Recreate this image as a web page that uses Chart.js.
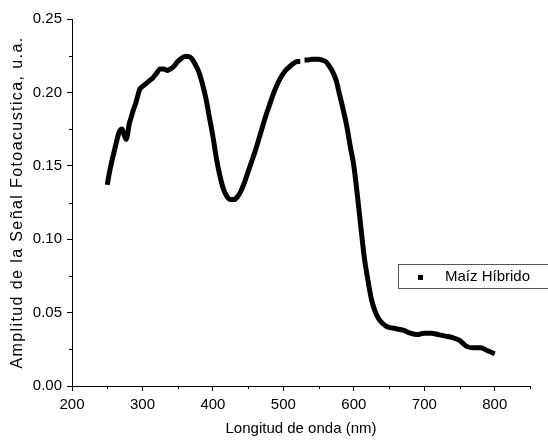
<!DOCTYPE html>
<html>
<head>
<meta charset="utf-8">
<script src="https://cdn.jsdelivr.net/npm/chart.js@4/dist/chart.umd.min.js"></script>
<style>
    html, body { margin: 0; padding: 0; background: #fff; }
    #wrap { width: 548px; height: 442px; }
</style>
</head>
<body>
<div id="wrap"><canvas id="chart" width="548" height="442"></canvas></div>
<script>
// Werte (Wellenlänge in nm / Amplitude in u.a.)
const wavelength = [
    250, 253, 256, 259, 262, 265, 268, 271, 274, 277, 279, 281, 284, 287, 290, 293, 296,
    300, 305, 310, 315, 320, 325, 330, 335, 340, 345, 350, 355, 360, 365, 370, 375, 380,
    385, 390, 395, 400, 405, 410, 415, 420, 425, 430, 435, 440, 445, 450, 455, 460, 465,
    470, 475, 480, 485, 490, 495, 500, 505, 510, 515, 520, 524, 527,
    530, 535, 540, 545, 550, 555, 560, 565, 570, 575, 580, 585, 590, 595, 600, 605, 610,
    615, 620, 625, 630, 635, 640, 645, 650, 660, 670, 680, 690, 700, 710, 720, 730, 740,
    750, 755, 760, 770, 780, 790, 800
];
const amplitude = [
    0.137, 0.145, 0.152, 0.158, 0.164, 0.170, 0.174, 0.175, 0.171, 0.168, 0.172, 0.178, 0.183, 0.188, 0.192, 0.197, 0.202,
    0.204, 0.206, 0.208, 0.210, 0.213, 0.216, 0.216, 0.215, 0.216, 0.218, 0.221, 0.223, 0.2245, 0.2245, 0.223, 0.219, 0.214,
    0.206, 0.196, 0.183, 0.170, 0.155, 0.143, 0.134, 0.129, 0.127, 0.127, 0.129, 0.133, 0.139, 0.146, 0.153, 0.160, 0.168,
    0.176, 0.184, 0.191, 0.198, 0.204, 0.209, 0.213, 0.216, 0.218, 0.220, 0.221, 0.221, null,
    0.222, 0.222, 0.2225, 0.2225, 0.2225, 0.222, 0.221, 0.218, 0.214, 0.208, 0.198, 0.188, 0.177, 0.163, 0.150, 0.130, 0.108,
    0.087, 0.072, 0.059, 0.051, 0.046, 0.043, 0.041, 0.040, 0.039, 0.038, 0.036, 0.035, 0.036, 0.036, 0.035, 0.034, 0.033,
    0.031, 0.029, 0.027, 0.026, 0.026, 0.024, 0.022
];
const seriesName = "Maíz Híbrido";
const xTitle = "Longitud de onda (nm)";
const yTitle = "Amplitud de la Señal Fotoacustica, u.a.";
const xTickLabels = [200, 300, 400, 500, 600, 700, 800];
const yTickLabels = [0.00, 0.05, 0.10, 0.15, 0.20, 0.25];

const FONT = "'Liberation Sans', Arial, sans-serif";

const isMajor = (list, v) => list.some(t => Math.abs(t - v) < 1e-6);

// kurze Nebenstriche, y-Titel (gesperrt) + Legende mit Rahmen
const extras = {
    id: "extras",
    afterDraw: (chart) => {
        const ctx = chart.ctx;
        const xs = chart.scales.x, ys = chart.scales.y;
        const area = chart.chartArea;
        ctx.save();
        ctx.strokeStyle = "#000";
        ctx.lineWidth = 1;
        for (let v = 250; v <= 850; v += 100) {
            const px = Math.round(xs.getPixelForValue(v)) + 0.5;
            ctx.beginPath();
            ctx.moveTo(px, xs.top);
            ctx.lineTo(px, xs.top + 3);
            ctx.stroke();
        }
        for (let v = 0.025; v < 0.25; v += 0.05) {
            const py = Math.round(ys.getPixelForValue(v)) + 0.5;
            ctx.beginPath();
            ctx.moveTo(ys.right, py);
            ctx.lineTo(ys.right - 3, py);
            ctx.stroke();
        }

        // y-Titel
        ctx.save();
        ctx.translate(18, (area.top + area.bottom) / 2);
        ctx.rotate(-Math.PI / 2);
        ctx.font = "16px " + FONT;
        ctx.letterSpacing = "1.4px";
        ctx.fillStyle = "#000";
        ctx.textAlign = "center";
        ctx.textBaseline = "middle";
        ctx.fillText(yTitle, 0, 0);
        ctx.restore();

        // Legende
        ctx.strokeStyle = "#555";
        ctx.strokeRect(398.5, 264.5, 160, 24);
        ctx.fillStyle = "#000";
        ctx.fillRect(418, 275, 5, 5);
        ctx.font = "15px " + FONT;
        ctx.textBaseline = "middle";
        ctx.fillText(chart.data.datasets[0].label, 445, 277);
        ctx.restore();
    }
};

new Chart(document.getElementById("chart"), {
    type: "line",
    data: {
        labels: wavelength,
        datasets: [{
            label: seriesName,
            data: wavelength.map((w, i) => ({ x: w, y: amplitude[i] })),
            borderColor: "#000",
            backgroundColor: "#000",
            borderWidth: 5,
            pointRadius: 0,
            spanGaps: false,
            cubicInterpolationMode: "monotone",
        }],
    },
    options: {
        responsive: false,
        animation: false,
        layout: { padding: { top: 19, right: 18, left: 0, bottom: 0 } },
        plugins: {
            legend: { display: false },
            tooltip: { enabled: false },
        },
        scales: {
            x: {
                type: "linear",
                min: 200,
                max: 850,
                afterFit: (s) => { s.height = 56; },
                border: { color: "#000", width: 1 },
                grid: {
                    drawOnChartArea: false,
                    tickLength: 5,
                    tickColor: (c) => isMajor(xTickLabels, c.tick.value) ? "#000" : "rgba(0,0,0,0)",
                },
                ticks: {
                    stepSize: 50,
                    padding: 5,
                    color: "#000",
                    maxRotation: 0,
                    autoSkip: false,
                    font: { family: FONT, size: 15 },
                    callback: (v) => isMajor(xTickLabels, v) ? String(v) : "",
                },
                title: {
                    display: true,
                    text: xTitle,
                    color: "#000",
                    font: { family: FONT, size: 15 },
                    padding: { top: 4, bottom: 4 },
                },
            },
            y: {
                type: "linear",
                min: 0,
                max: 0.25,
                afterFit: (s) => { s.width = 72; },
                border: { color: "#000", width: 1 },
                grid: {
                    drawOnChartArea: false,
                    tickLength: 5,
                    tickColor: (c) => isMajor(yTickLabels, c.tick.value) ? "#000" : "rgba(0,0,0,0)",
                },
                ticks: {
                    stepSize: 0.025,
                    padding: 5,
                    color: "#000",
                    autoSkip: false,
                    font: { family: FONT, size: 15 },
                    callback: (v) => isMajor(yTickLabels, v) ? v.toFixed(2) : "",
                },
                title: { display: false },
            },
        },
    },
    plugins: [extras],
});
</script>
</body>
</html>
